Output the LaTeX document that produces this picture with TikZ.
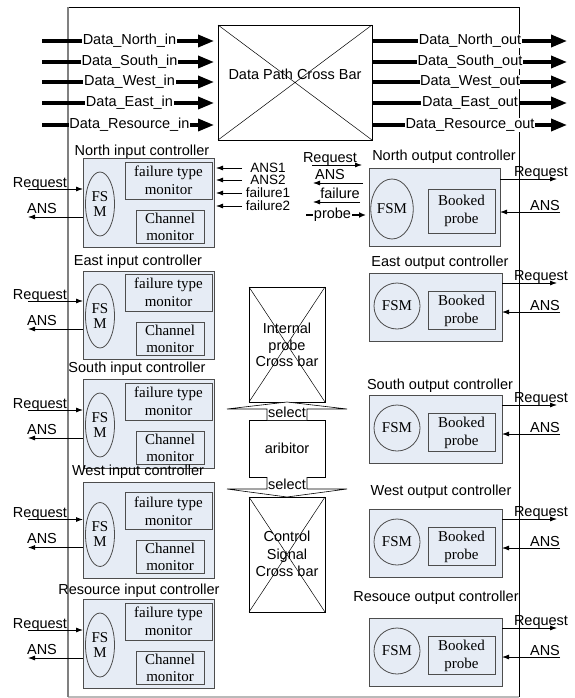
\documentclass[tikz,border=0pt]{standalone}
\usepackage{fontspec}
\setmainfont{Liberation Serif}
\setsansfont{Liberation Sans}
\usetikzlibrary{arrows.meta,shapes.geometric,calc}
\definecolor{boxfill}{HTML}{E6ECF5}
\definecolor{boxline}{HTML}{4D4D4D}
\newcommand{\inctrl}[7]{%
  \node[ctrl, minimum width=131, minimum height=#3] (#1) at (83,#2) {};
  \node[sf, txt] (#1-lab) at (#6,#7) {#5};
  \node[draw=boxline, line width=0.8pt, ellipse, minimum width=29, minimum height=64, inner sep=0pt] (#1-fsm) at (100,{#2+46+#4}) {};
  \node[rm, txt, align=center, font=\rmfamily\fontsize{15}{15}\selectfont] (#1-fsmt) at (#1-fsm) {FS\\M};
  \node[inbox, minimum width=87, minimum height=37, rm, align=center] (#1-ft) at (125,{#2+4+#4}) {failure type\\monitor};
  \node[inbox, minimum width=68, minimum height=33, rm, align=center, font=\rmfamily\fontsize{15}{17}\selectfont] (#1-ch) at (136,{#2+52+#4}) {Channel\\monitor};
  \coordinate (#1-rq) at (28,{#2+31+#4});
  \draw[sig] (#1-rq) -- (#1-rq -| #1.west);
  \node[sf, txt, anchor=base] (#1-rql) at (40,{#2+29+#4}) {Request};
  \coordinate (#1-an) at (28,{#2+59+#4});
  \draw[sig] (#1-an -| #1.west) -- (#1-an);
  \node[sf, txt, anchor=base] (#1-anl) at (42,{#2+55+#4}) {ANS};
}
\newcommand{\outctrl}[5]{%
  \node[ctrl, minimum width=133, minimum height=68] (#1) at (369,#2) {};
  \node[sf, txt] (#1-lab) at (#4,#5) {#3};
  \node[draw=boxline, line width=0.8pt, circle, minimum size=46, inner sep=0pt, rm] (#1-fsm) at (397,{#2+33}) {FSM};
  \node[inbox, minimum width=67, minimum height=38, rm, align=center] (#1-bp) at (428,{#2+18.5}) {Booked\\probe};
  \coordinate (#1-rq) at (557,{#2+10});
  \draw[sig] (#1-rq -| #1.east) -- (#1-rq);
  \node[sf, txt, anchor=base] (#1-rql) at (541,{#2+7}) {Request};
  \coordinate (#1-an) at (560,{#2+39});
  \draw[sig] (#1-an) -- (#1-an -| #1.east);
  \node[sf, txt, anchor=base] (#1-anl) at (545,{#2+37}) {ANS};
}
\begin{document}
\begin{tikzpicture}[x=1pt,y=-1pt,
  sf/.style={font=\sffamily\fontsize{14.5}{16.5}\selectfont},
  sfs/.style={font=\sffamily\fontsize{13.5}{14}\selectfont},
  rm/.style={font=\rmfamily\fontsize{15}{18}\selectfont},
  txt/.style={inner sep=0pt},
  ctrl/.style={draw=boxline, fill=boxfill, line width=0.9pt, inner sep=0pt, outer sep=0pt, anchor=north west},
  inbox/.style={draw=boxline, fill=boxfill, line width=0.8pt, inner sep=0pt, outer sep=0pt, anchor=north west},
  xbar/.style={draw=black, line width=0.6pt, inner sep=0pt, outer sep=0pt, anchor=north west},
  diag/.style={line width=0.5pt},
  sig/.style={line width=0.8pt, -{Latex[length=7pt,width=5pt]}},
  data/.style={line width=3.5pt, -{Triangle[length=16pt,width=12pt]}},
  dlabel/.style={sf, fill=white, inner sep=0.6pt},
  blk/.style={draw=black, fill=white, line width=0.6pt},
]
\useasboundingbox (0,0) rectangle (574,698);
% outer frame
\coordinate (ftl) at (68,7);
\coordinate (ftr) at (519,7);
\coordinate (fbl) at (68,697);
\coordinate (fbr) at (519,697);
\draw[black, line width=0.8pt] (ftl) -- (ftr) -- (fbr);
\draw[gray!55, line width=1.5pt] (fbr) -- (fbl);
\draw[gray, line width=1.6pt] (fbl) -- (ftl);

% Data path cross bar
\node[xbar, minimum width=154, minimum height=115] (dp) at (218,25) {};
\draw[diag] (dp.north west) -- (dp.south east) (dp.north east) -- (dp.south west);
\node[sf, txt] (dptxt) at (295,74) {Data Path Cross Bar};

\foreach \n/\t/\yy in {N/North/41, S/South/62, W/West/82, E/East/103, R/Resource/125}{
  \coordinate (din\n) at (42,\yy);
  \draw[data, shorten >=4pt] (din\n) -- (din\n -| dp.west);
  \node[dlabel] (dinl\n) at (129.5,\yy) {Data\_\t\_in};
  \coordinate (dout\n) at (567,\yy);
  \draw[data] (dout\n -| dp.east) -- (dout\n);
  \node[dlabel] (doutl\n) at (470,\yy) {Data\_\t\_out};
}

% input controllers
\inctrl{nin}{158}{89}{0}{North input controller}{142}{152}
\inctrl{ein}{271}{88}{-1}{East input controller}{138}{262}
\inctrl{sin}{379}{89}{0}{South input controller}{137}{369}
\inctrl{win}{482}{96}{6.5}{West input controller}{138}{472}
\inctrl{rin}{599}{89}{0}{Resource input controller}{139}{591}

% failure signals into north input controller
\foreach \k/\t/\yy in {a/ANS1/168, b/ANS2/180, c/failure1/193, d/failure2/206}{
  \coordinate (fs\k) at (242,\yy);
  \draw[sig] (fs\k) -- ([xshift=2pt]fs\k -| nin.east);
  \node[sfs, txt] (fsl\k) at (268,{\yy-0.5}) {\t};
}

% north output controller
\node[ctrl, minimum width=131, minimum height=78] (nout) at (369,168) {};
\node[sf, txt] (nout-lab) at (444,157) {North output controller};
\node[draw=boxline, line width=0.8pt, ellipse, minimum width=36, minimum height=60, inner sep=0pt, rm] (nout-fsm) at (392,209) {FSM};
\node[inbox, minimum width=67, minimum height=44, rm, align=center] (nout-bp) at (428,189) {Booked\\probe};
\coordinate (nout-rq) at (557,179);
\draw[sig] (nout-rq -| nout.east) -- (nout-rq);
\node[sf, txt, anchor=base] (nout-rql) at (541,176) {Request};
\coordinate (nout-an) at (560,212);
\draw[sig] (nout-an) -- (nout-an -| nout.east);
\node[sf, txt, anchor=base] (nout-anl) at (545,210) {ANS};

% signals between
\coordinate (mrqa) at (312,165); \coordinate (mrqb) at (362,165);
\draw[sig] (mrqa) -- (mrqb);
\node[sf, txt, anchor=base] (mrql) at (330,162) {Request};
\coordinate (mana) at (363,183); \coordinate (manb) at (313,183);
\draw[sig] (mana) -- (manb);
\node[sf, txt, anchor=base] (manl) at (330,179) {ANS};
\coordinate (mfaa) at (360,202); \coordinate (mfab) at (313,202);
\draw[sig] (mfaa) -- (mfab);
\node[sf, txt, anchor=base] (mfal) at (340,198) {failure};
\coordinate (mpra) at (306,215); \coordinate (mprb) at (366,215);
\draw[line width=1.6pt, -{Latex[length=7pt,width=6pt]}] (mpra) -- (mprb);
\node[dlabel] (mprl) at (332.5,215) {probe};

% output controllers
\outctrl{eout}{273}{East output controller}{440}{263}
\outctrl{sout}{395}{South output controller}{440}{386}
\outctrl{wout}{509}{West output controller}{441}{492}
\outctrl{rout}{618}{Resouce output controller}{436}{598}

% middle: internal probe cross bar, arbitor, control signal cross bar
\node[xbar, minimum width=76, minimum height=115] (ipc) at (249,287) {};
\draw[diag] (ipc.north west) -- (ipc.south east) (ipc.north east) -- (ipc.south west);
\node[sf, txt, align=center] (ipct) at (287,345) {Internal\\probe\\Cross bar};
\node[xbar, minimum width=76, minimum height=57, sf] (arb) at (249,420) {aribitor};
\node[xbar, minimum width=76, minimum height=115] (csc) at (249,497) {};
\draw[diag] (csc.north west) -- (csc.south east) (csc.north east) -- (csc.south west);
\node[sf, txt, align=center, font=\sffamily\fontsize{14.5}{17.5}\selectfont] (csct) at (287,554) {Control\\Signal\\Cross bar};

\draw[blk] ($(arb.north)+(-20,0)$) -- ++(0,-11) -- ++(-40,0) -- (ipc.south) -- ($(arb.north)+(60,-11)$) -- ++(-40,0) -- ($(arb.north)+(20,0)$);
\node[sf, txt, anchor=base] (sel1) at (287,417.5) {select};
\draw[blk] ($(arb.south)+(-20,0)$) -- ++(0,12) -- ++(-40,0) -- (csc.north) -- ($(arb.south)+(60,12)$) -- ++(-40,0) -- ($(arb.south)+(20,0)$);
\node[sf, txt, anchor=base] (sel2) at (287,489.5) {select};
\end{tikzpicture}
\end{document}
